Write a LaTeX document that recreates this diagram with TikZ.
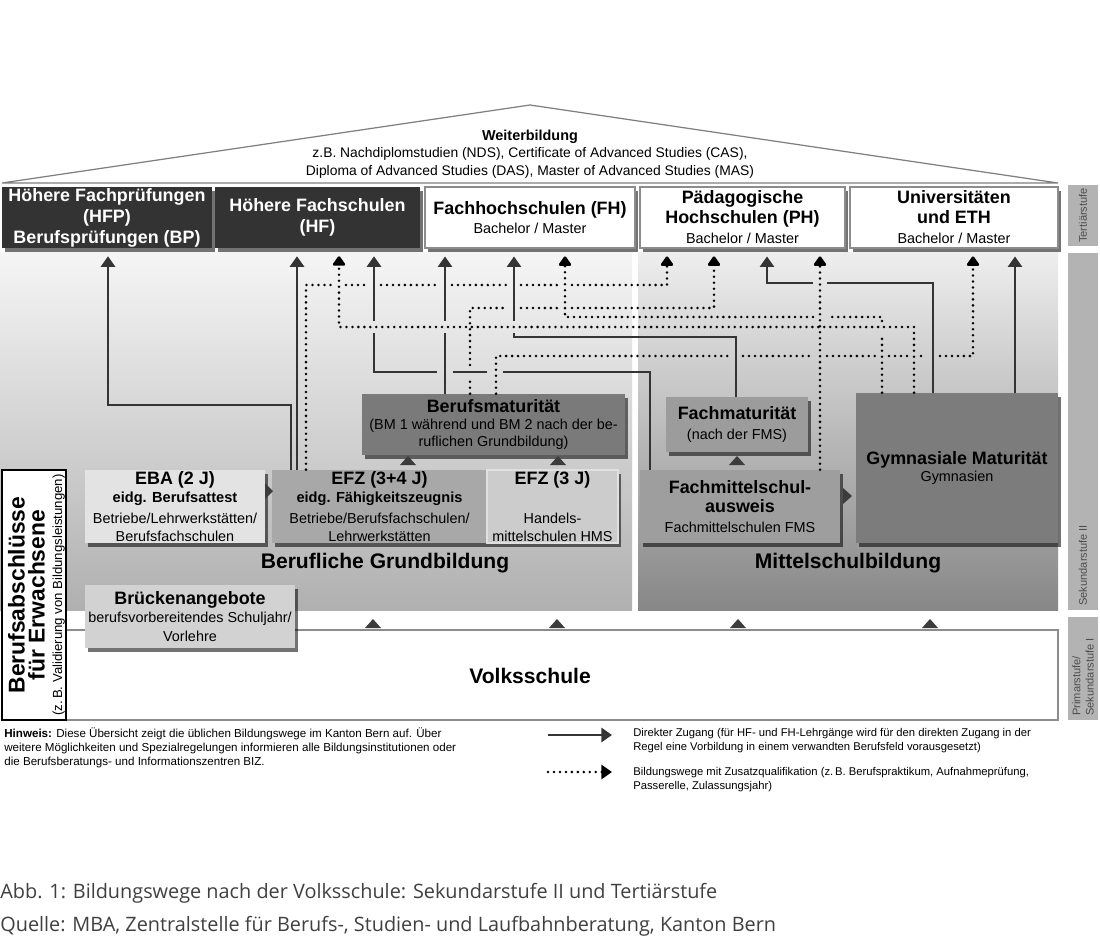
\documentclass[tikz,border=0pt]{standalone}
\usepackage{fontspec}
\setmainfont{Liberation Sans}
\newfontfamily\capfont{Open Sans}
\usetikzlibrary{arrows.meta,shadows,calc}
\definecolor{cline}{HTML}{343434}
\definecolor{cdark}{HTML}{333333}
\definecolor{ctri}{HTML}{3C3C3C}
\definecolor{lTop}{HTML}{F5F5F5}
\definecolor{lMid}{HTML}{D4D4D4}
\definecolor{lBot}{HTML}{B0B0B0}
\definecolor{rTop}{HTML}{EEEEEE}
\definecolor{rMid}{HTML}{B4B4B4}
\definecolor{rBot}{HTML}{878787}
\definecolor{cBM}{HTML}{7A7A7A}
\definecolor{cFMAT}{HTML}{9C9C9C}
\definecolor{cGYM}{HTML}{7C7C7C}
\definecolor{cEBA}{HTML}{E3E3E3}
\definecolor{cEFZa}{HTML}{A8A8A8}
\definecolor{cEFZb}{HTML}{CCCCCC}
\definecolor{cFMS}{HTML}{9E9E9E}
\definecolor{cBR}{HTML}{D2D2D2}
\definecolor{cStrip}{HTML}{B3B3B3}
\definecolor{cStripT}{HTML}{4D4D4D}
\definecolor{cRoof}{HTML}{7F7F7F}
\definecolor{cBorder}{HTML}{8C8C8C}
\newcommand\FTit{\fontsize{10.2}{12}\selectfont\bfseries}
\newcommand\FSm{\fontsize{8.2}{10.3}\selectfont\mdseries}
\newcommand\FSemi{\fontsize{8.3}{10.3}\selectfont\bfseries}
\newcommand\FBig{\fontsize{12}{14}\selectfont\bfseries}
\newcommand\FRoof{\fontsize{7.9}{9.8}\selectfont}
\newcommand\FLeg{\fontsize{6.4}{8.4}\selectfont}
\newcommand\FHin{\fontsize{6.6}{8.1}\selectfont}
\newcommand\uptri[2]{\fill[ctri] (#1-8,#2) -- (#1+8,#2) -- (#1,#2-9) -- cycle;}
\tikzset{
  wh/.style 2 args={minimum width=#1*0.02cm, minimum height=#2*0.02cm},
  box/.style={inner sep=0pt, align=center,
    drop shadow={shadow xshift=1.6pt, shadow yshift=-2.2pt, opacity=0.55, fill=black}},
  darkbox/.style={box, fill=cdark, text=white, font=\FTit},
  whitebox/.style={box, fill=white, draw=cBorder, line width=0.6pt, font=\FTit},
  graybox/.style={box, font=\FSm},
  sol/.style={draw=cline, line width=1.7pt},
  solA/.style={sol, shorten >=4.5pt, -{Triangle[width=8pt,length=6pt]}},
  dot/.style={draw=black, line width=1.6pt, line cap=round, dash pattern=on 0pt off 3.4pt},
  dotA/.style={dot, shorten >=4.5pt, -{Triangle[width=8pt,length=6pt,round=false]}},
  strip/.style={fill=cStrip, inner sep=0pt},
  striptext/.style={rotate=90, inner sep=0pt, text=cStripT, font=\fontsize{6.3}{7.6}\selectfont},
}
\begin{document}
\begin{tikzpicture}[x=0.02cm,y=-0.02cm]
\useasboundingbox[fill=white] (0,0) rectangle (1100,940);

% roof
\draw[cRoof, line width=0.7pt] (2,183) -- (530,105) -- (1058,183) -- cycle;
\node[font=\FRoof, align=center, inner sep=0pt] (wb) at (530,154)
  {{\fontsize{8.2}{9.8}\selectfont\bfseries Weiterbildung}\\
   z.B. Nachdiplomstudien (NDS), Certificate of Advanced Studies (CAS),\\
   Diploma of Advanced Studies (DAS), Master of Advanced Studies (MAS)};

% tertiary boxes
\node[darkbox, wh={210}{61}] (hfp) at (107,217.5) {Höhere Fachprüfungen\\(HFP)\\Berufsprüfungen (BP)};
\node[darkbox, wh={205}{61}] (hf) at (317.5,217.5) {Höhere Fachschulen\\(HF)};
\node[whitebox, wh={210}{61}, font=\fontsize{10.2}{11}\selectfont\bfseries] (fh) at (530,217.5) {Fachhochschulen (FH)\\\FSm Bachelor / Master};
\node[whitebox, wh={205}{61}, font=\fontsize{10.2}{11.4}\selectfont\bfseries] (ph) at (742.5,217.5) {Pädagogische\\Hochschulen (PH)\\\FSm Bachelor / Master};
\node[whitebox, wh={208}{61}, font=\fontsize{10.2}{11.4}\selectfont\bfseries] (uni) at (954,217.5) {Universitäten\\und ETH\\\FSm Bachelor / Master};

% secondary II panels
\shade[shading=axis, top color=lTop, middle color=lMid, bottom color=lBot] (0,252) rectangle (632,610);
\shade[shading=axis, top color=rTop, middle color=rMid, bottom color=rBot] (638,252) rectangle (1058,610);
\node[font=\FBig] (bglab) at (385,563) {Berufliche Grundbildung};
\node[font=\FBig] (mslab) at (848,563) {Mittelschulbildung};

% right strips
\node[strip, wh={30}{61}] (s1) at (1083,215.5) {};
\node[striptext] (s1t) at (s1.center) {Tertiärstufe};
\node[strip, wh={30}{357}] (s2) at (1083,431.5) {};
\node[striptext, anchor=west] (s2t) at (1083,606) {Sekundarstufe II};
\node[strip, wh={30}{103}] (s3) at (1083,668.5) {};
\node[striptext, anchor=west, align=left] (s3t) at (1083,716) {Primarstufe/\\Sekundarstufe I};

% Volksschule and adults box
\node[fill=white, draw=cBorder, line width=0.8pt, wh={992}{90}, inner sep=0pt] (volks) at (562,675) {};
\node[font=\FBig] (vlab) at (530,676) {Volksschule};
\node[fill=white, draw=black, line width=0.9pt, wh={64}{250}, inner sep=0pt] (erw) at (34,595) {};
\node[rotate=90, align=center, inner sep=0pt, font=\fontsize{13}{11.4}\selectfont\bfseries] (erwt) at (36.5,595)
  {Berufsabschlüsse\\für Erwachsene\\[-1.5pt]\fontsize{7.5}{9}\selectfont\mdseries (z.\,B. Validierung von Bildungsleistungen)};

% secondary boxes
\node[graybox, fill=cBM, wh={263}{61}, font=\fontsize{8.2}{9.7}\selectfont] (bm) at (493.5,424.5)
  {\FTit Berufsmaturität\\(BM 1 während und BM 2 nach der be-\\ruflichen Grundbildung)};
\node[graybox, fill=cFMAT, wh={142}{55}, font=\fontsize{8.2}{11.2}\selectfont] (fmat) at (737,424.5)
  {\FTit Fachmaturität\\(nach der FMS)};
\node[graybox, fill=cGYM, wh={202}{150}, font=\fontsize{8.2}{10.2}\selectfont] (gym) at (957,468)
  {\FTit Gymnasiale Maturität\\Gymnasien};
\node[graybox, fill=cEBA, wh={180}{73}] (eba) at (175,506.5)
  {\FTit EBA (2 J)\\\FSemi eidg. Berufsattest\\[1.5pt]Betriebe/Lehrwerkstätten/\\Berufsfachschulen};
\node[graybox, fill=cEFZa, wh={215}{73}] (efz34) at (379.5,506.5)
  {\FTit EFZ (3+4 J)\\\FSemi eidg. Fähigkeitszeugnis\\[1.5pt]Betriebe/Berufsfachschulen/\\Lehrwerkstätten};
\node[graybox, fill=cEFZb, draw=white!88!black, line width=0.6pt, wh={131}{73}] (efz3) at (552.5,506.5)
  {\FTit EFZ (3 J)\\ \\[1.5pt]Handels-\\mittelschulen HMS};
\node[graybox, fill=cFMS, wh={200}{73}, font=\fontsize{8.2}{11}\selectfont] (fms) at (740,506.5)
  {\FTit Fachmittelschul-\\\FTit ausweis\\Fachmittelschulen FMS};
\node[graybox, fill=cBR, wh={210}{63}, font=\fontsize{8.2}{10.3}\selectfont] (br) at (190,616.5)
  {\FTit Brückenangebote\\berufsvorbereitendes Schuljahr/\\Vorlehre};

% connectors: solid
\draw[solA] (efz34.north -| 291,0) |- (108,405) -- (hfp.south -| 108,0);
\draw[solA] (efz34.north -| 297,0) -- (hf.south -| 297,0);
\draw[sol] (fms.north -| 650,0) |- (503,372);
\draw[sol] (487,372) -- (453,372);
\draw[sol] (437,372) -| (374,333);
\draw[solA] (374,321) -- (hf.south -| 374,0);
\draw[sol] (bm.north -| 445,0) -- (445,333);
\draw[solA] (445,321) -- (fh.south -| 445,0);
\draw[sol] (fmat.north -| 736,0) |- (514,337) -- (514,333);
\draw[solA] (514,321) -- (fh.south -| 514,0);
\draw[sol] (gym.north -| 933,0) |- (827,283);
\draw[solA] (813,283) -| (ph.south -| 767,0);
\draw[solA] (gym.north -| 1015,0) -- (uni.south -| 1015,0);

% connectors: dotted
\draw[dot] (efz34.north -| 306,0) |- (332,285);
\draw[dot] (346,285) -- (367,285);
\draw[dot] (381,285) -- (438,285);
\draw[dot] (452,285) -- (507,285);
\draw[dot] (521,285) -- (558,285);
\draw[dotA] (572,285) -| (ph.south -| 667,0);
\draw[dotA] (gym.north -| 914,0) |- (339,327) -- (hf.south -| 339,0);
\draw[dot] (gym.north -| 882,0) -- (882,334);
\draw[dot] (882,321) |- (827,317);
\draw[dotA] (813,317) -| (fh.south -| 565,0);
\draw[dot] (bm.north -| 470,0) -- (470,379);
\draw[dot] (470,365) |- (507,308);
\draw[dot] (521,308) -- (558,308);
\draw[dotA] (572,308) -| (ph.south -| 714,0);
\draw[dot] (bm.north -| 496,0) |- (729,356);
\draw[dot] (743,356) -- (813,356);
\draw[dot] (827,356) -- (875,356);
\draw[dot] (889,356) -- (907,356);
\draw[dot] (921,356) -- (926,356);
\draw[dotA] (940,356) -| (uni.south -| 973,0);
\draw[dotA] (fms.north -| 820,0) -- (ph.south -| 820,0);

% small triangles
\uptri{373}{628}\uptri{557}{628}\uptri{738}{628}\uptri{930}{628}
\uptri{408}{465}\uptri{558}{465}\uptri{737}{465}
\fill[ctri] (265,483) -- (273,491) -- (265,499) -- cycle;
\fill[ctri] (843,488) -- (852,496) -- (843,504) -- cycle;

% legend
\node[anchor=north west, font=\FHin, align=left, inner sep=0pt] (hinw) at (4,727)
  {\textbf{Hinweis:} Diese Übersicht zeigt die üblichen Bildungswege im Kanton Bern auf. Über\\
   weitere Möglichkeiten und Spezialregelungen informieren alle Bildungsinstitutionen oder\\
   die Berufsberatungs- und Informationszentren BIZ.};
\coordinate (la1) at (548,735); \coordinate (lb1) at (612,735);
\coordinate (la2) at (548,772); \coordinate (lb2) at (612,772);
\draw[sol, -{Triangle[width=8pt,length=6pt]}] (la1) -- (lb1);
\draw[dot, -{Triangle[width=8pt,length=6pt]}] (la2) -- (lb2);
\node[anchor=west, font=\FLeg, align=left, inner sep=0pt] (leg1) at (633,740.5)
  {Direkter Zugang (für HF- und FH-Lehrgänge wird für den direkten Zugang in der\\
   Regel eine Vorbildung in einem verwandten Berufsfeld vorausgesetzt)};
\node[anchor=west, font=\FLeg, align=left, inner sep=0pt] (leg2) at (633,779.5)
  {Bildungswege mit Zusatzqualifikation (z.\,B. Berufspraktikum, Aufnahmeprüfung,\\
   Passerelle, Zulassungsjahr)};

% caption
\node[anchor=west, font=\capfont\fontsize{11.3}{18.8}\selectfont, align=left, inner sep=0pt, text=black!75] (cap) at (0,910)
  {Abb. 1: Bildungswege nach der Volksschule: Sekundarstufe II und Tertiärstufe\\
   Quelle: MBA, Zentralstelle für Berufs-, Studien- und Laufbahnberatung, Kanton Bern};
\end{tikzpicture}
\end{document}
